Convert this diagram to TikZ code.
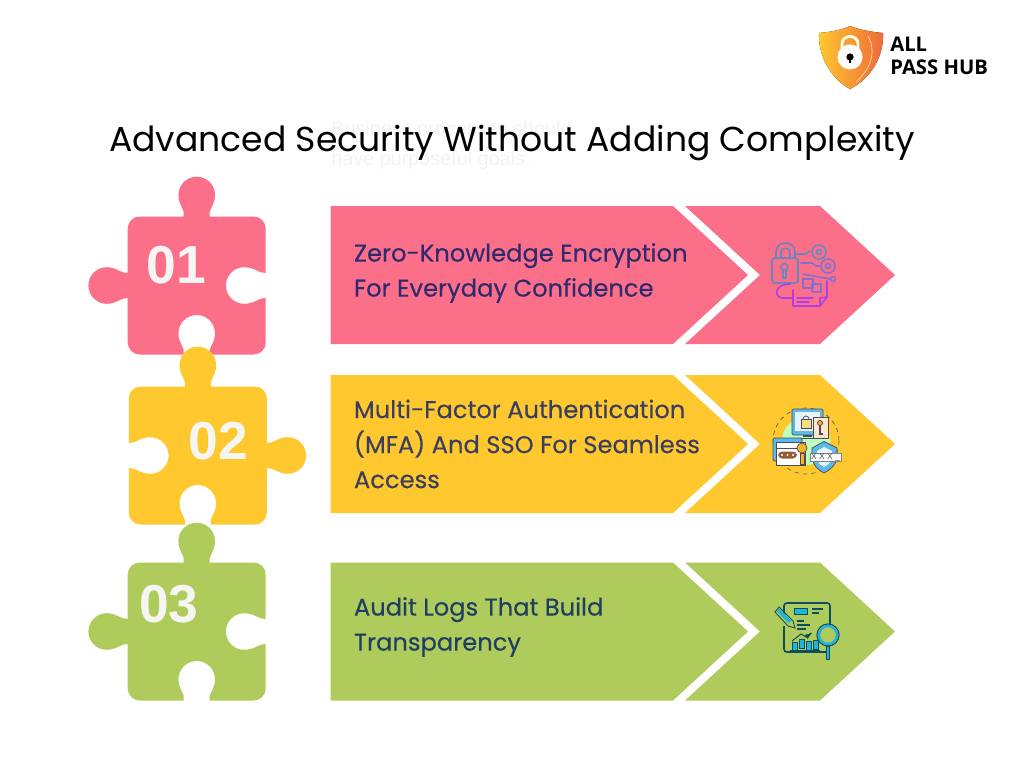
\documentclass[tikz,border=0pt]{standalone}
\usepackage{fontspec}
\setmainfont{Poppins}
\newfontfamily\rowfont[FakeBold=0.25]{Poppins}
\newfontfamily\numfont{Liberation Sans}
\newfontfamily\logofont{Open Sans}
\usetikzlibrary{shadings}
\definecolor{rowpink}{HTML}{FB6F89}
\definecolor{rowyellow}{HTML}{FFC82E}
\definecolor{rowgreen}{HTML}{AFCB5C}
\definecolor{inkpink}{HTML}{2F2A70}
\definecolor{inkyellow}{HTML}{3A3F60}
\definecolor{inkgreen}{HTML}{1F3F62}
\definecolor{numwhite}{HTML}{F5F5F3}
\definecolor{lockA}{HTML}{6488BE}
\definecolor{lockB}{HTML}{8070D4}
\definecolor{lockC}{HTML}{B03EE8}
\definecolor{deviceblue}{HTML}{5DB9E8}
\definecolor{deviceink}{HTML}{4A4A5A}
\definecolor{auditink}{HTML}{0E4C60}
\definecolor{auditcyan}{HTML}{22B5D8}
\definecolor{shieldmid}{HTML}{FBAE2C}
\definecolor{shieldred}{HTML}{EE6A3A}
\tikzstyle{rowtext} = [anchor=west,align=left,font=\rowfont\fontsize{17.2}{24.9}\selectfont]
\tikzstyle{numtext} = [text=numwhite,font=\numfont\bfseries\fontsize{38}{38}\selectfont]
\tikzstyle{logotext} = [anchor=base west,inner sep=0pt,font=\logofont\bfseries\fontsize{14.4}{14.4}\selectfont]
\tikzstyle{ghosttext} = [anchor=base west,inner sep=0pt,text=black!5,font=\numfont\fontsize{14.1}{14.1}\selectfont]
\tikzstyle{icon} = [line width=1.1pt,line cap=round,line join=round]

\newcommand{\puzzlepiece}[4]{% centre x, centre y, mirror, colour
  \fill[#4,shift={(#1,#2)},xscale=#3]
    (-69,-57) arc (180:270:12) -- (-13,-69)
    .. controls (-11,-75) and (-18.3,-80) .. (-18.3,-90.5) arc (180:360:18.3)
    .. controls (18.3,-80) and (11,-75) .. (13,-69)
    -- (57,-69) arc (270:360:12) -- (69,-12.5)
    .. controls (62,-12) and (58,-18.3) .. (47.5,-18.3) arc (270:90:18.3)
    .. controls (58,18.3) and (62,12) .. (69,12.5)
    -- (69,57) arc (0:90:12) -- (13,69)
    .. controls (11,63) and (18.3,58) .. (18.3,47.8) arc (0:-180:18.3)
    .. controls (-18.3,58) and (-11,63) .. (-13,69)
    -- (-57,69) arc (90:180:12) -- (-69,12.5)
    .. controls (-76,12) and (-80,18.3) .. (-90,18.3) arc (90:270:18.3)
    .. controls (-80,-18.3) and (-76,-12) .. (-69,-12.5) -- cycle;
}

\begin{document}
\begin{tikzpicture}[x=0.025cm,y=-0.025cm]
  \useasboundingbox (0,0) rectangle (1024,768);

  % faint text behind the title
  \node[ghosttext] (ghost) at (331,136) {Business processes should};
  \node[ghosttext] (ghosttwo) at (331,165) {have purposeful goals.};
  \node[anchor=base,inner sep=0pt,font=\fontsize{24.6}{30}\selectfont] (title) at (512,151) {Advanced Security Without Adding Complexity};

  % logo
  \fill[left color=rowyellow,middle color=shieldmid,right color=shieldred] (819,33) .. controls (830,32) and (842,30) .. (850,26)
    .. controls (860,30) and (872,32) .. (883,33) .. controls (884,55) and (872,78) .. (850,89)
    .. controls (830,78) and (818,55) .. (819,33) -- cycle;
  \draw[white!70!orange,line width=0.5pt] (868,36) .. controls (876,50) and (872,68) .. (856,82);
  \draw[white!90!yellow,line width=2pt] (842,50) -- (842,44) .. controls (842,34) and (858,34) .. (858,44) -- (858,50);
  \fill[white] (850,57) circle (12.5);
  \fill[black] (850,57) circle (3.6);
  \fill[black] (848.6,58) rectangle (851.4,63);
  \node[logotext] (logoall) at (890,52) {ALL};
  \node[logotext] (logopass) at (890,75) {PASS HUB};

  % arrow rows
  \foreach \y/\c in {275/rowpink,444/rowyellow,631.5/rowgreen} {
    \fill[\c] (330.5,\y-69) -- (673,\y-69) -- (748,\y) -- (673,\y+69) -- (330.5,\y+69) -- cycle;
    \fill[\c] (685,\y-69) -- (820,\y-69) -- (895,\y) -- (820,\y+69) -- (685,\y+69) -- (760,\y) -- cycle;
  }
  \node[rowtext,text=inkpink] (textone) at (349,273) {Zero-Knowledge Encryption\\For Everyday Confidence};
  \node[rowtext,text=inkyellow] (texttwo) at (349,444) {Multi-Factor Authentication\\(MFA) And SSO For Seamless\\Access};
  \node[rowtext,text=inkgreen] (textthree) at (349,627) {Audit Logs That Build\\Transparency};

  % puzzle pieces
  \foreach \x/\y/\m/\c in {196.7/285.5/1/rowpink,197.8/455.5/-1/rowyellow,196.7/631.5/1/rowgreen} {
    \puzzlepiece{\x}{\y}{\m}{\c}
  }
  \node[numtext] (numone) at (176.5,265) {01};
  \node[numtext] (numtwo) at (218.5,441) {02};
  \node[numtext] (numthree) at (169,604) {03};

  % lock icon
  \draw[icon,lockA] (776,258) -- (776,252) .. controls (776,240) and (795,240) .. (795,252) -- (795,258);
  \draw[icon,lockA] (781,258) -- (781,252) .. controls (781,247) and (790,247) .. (790,252) -- (790,258);
  \draw[icon,lockA,rounded corners=2pt] (772,258) rectangle (798,283);
  \draw[icon,lockA] (784.5,267) circle (3.5);
  \draw[icon,lockA] (783,270) -- (783,278) -- (786,278) -- (786,270);
  \draw[icon,lockA] (797,254) -- (806,254) -- (810,251);
  \draw[icon,lockA] (819,252) circle (7);
  \draw[icon,lockA] (819,252) circle (2.5);
  \draw[icon,lockB] (801,263) -- (812,263) -- (816,266) -- (820,266);
  \draw[icon,lockB] (828,266) circle (7);
  \draw[icon,lockB] (828,266) circle (2.5);
  \draw[icon,lockB] (803,274) -- (830,279);
  \draw[icon,lockB] (833,279) circle (2.5);
  \draw[icon,lockB] (803,279) rectangle (813,288);
  \draw[icon,lockB] (812,284) rectangle (821,292);
  \draw[icon,lockC] (793,290) -- (793,306) -- (820,306) -- (827,297) -- (827,281);
  \draw[icon,lockC] (820,306) -- (820,298) -- (827,297);
  \draw[icon,lockC] (797,298) -- (813,298);
  \draw[icon,lockC] (797,302) -- (809,302);
  \draw[icon,lockC] (790,284) .. controls (775,284) and (773,296) .. (782,298) -- (793,298);

  % access icon
  \fill[green!25!white] (806,441) circle (24);
  \draw[deviceink,dashed,line width=0.4pt] (806,441) circle (33);
  \fill[deviceblue,draw=deviceink,line width=0.5pt,rounded corners=1pt] (792,409) rectangle (823,435);
  \fill[white!85!deviceblue] (795,412) rectangle (820,431);
  \fill[deviceink] (803,435) rectangle (812,437);
  \draw[deviceink,line width=0.7pt] (800,438) -- (815,438);
  \draw[deviceink,fill=rowyellow!60!white,line width=0.5pt] (801,419) rectangle (811,428);
  \draw[deviceink,line width=0.5pt] (803,419) arc (180:360:3);
  \fill[white!80!orange,draw=deviceink,line width=0.5pt] (813,417) rectangle (828,438);
  \draw[deviceink,fill=rowyellow!80!orange,line width=0.6pt] (820,423) circle (2.5);
  \draw[deviceink,line width=0.8pt] (820,425.5) -- (820,434) -- (823,434);
  \fill[deviceblue,draw=deviceink,line width=0.5pt,rounded corners=1pt] (773,438) rectangle (802,461);
  \fill[white,draw=deviceink,line width=0.5pt] (776,442) rectangle (805,465);
  \draw[deviceink,line width=0.5pt] (776,448) -- (805,448);
  \fill[deviceink!60!orange,rounded corners=3pt] (778,451.5) rectangle (797,458.5);
  \foreach \x in {782,787.5,793} {
    \fill[white] (\x,455) circle (1.2);
  }
  \draw[deviceink,fill=rowyellow!70!orange,line width=0.5pt] (802,448) circle (5);
  \fill[rowyellow!70!orange,draw=deviceink,line width=0.5pt] (800,453) rectangle (804,464);
  \fill[deviceblue,draw=deviceink,line width=0.5pt] (812,448) -- (824,441.5) -- (837,448) -- (837,458) .. controls (836,465) and (830,470) .. (824,473)
    .. controls (818,470) and (813,465) .. (812,458) -- cycle;
  \fill[white!85!deviceblue] (817,451) -- (824,447) -- (832,451) -- (832,458) .. controls (831,462) and (828,465) .. (824,467)
    .. controls (820,465) and (817,462) .. (817,458) -- cycle;
  \fill[white,draw=deviceink!70,line width=0.4pt] (810,453.5) rectangle (841,461.5);
  \node[inner sep=0pt,text=deviceink,font=\numfont\fontsize{6}{6}\selectfont] (xmark) at (825.5,457.5) {X X X \_};

  % audit icon
  \draw[auditink,line width=1.1pt,rounded corners=2pt] (784,615) -- (784,603) -- (830,603) -- (830,625);
  \draw[auditink,line width=1.1pt,rounded corners=2pt] (784,626) -- (784,652) -- (826,652);
  \fill[auditcyan,draw=auditink,line width=0.7pt] (794,608) rectangle (807,614);
  \draw[auditink,line width=0.8pt] (812,609) -- (823,609);
  \draw[auditink,line width=0.8pt] (812,613) -- (819,613);
  \draw[auditink,line width=0.8pt] (797,621) -- (804,621);
  \draw[auditink,line width=0.8pt] (797,625) -- (810,625);
  \draw[auditink,line width=0.8pt] (797,629) -- (806,629);
  \draw[auditcyan,line width=2.6pt] (778,610) -- (790,622);
  \draw[auditink,line width=0.6pt] (775,612) -- (779,607) -- (793,621) -- (795,628) -- (788,626) -- cycle;
  \draw[auditink,line width=0.7pt] (792,641) -- (801,634) -- (806,637) -- (811,633);
  \draw[auditink,line width=0.7pt,->,>=latex] (806,637) -- (812,633);
  \foreach \x/\y in {792/642,799/639,806/641,813/640} {
    \fill[auditcyan,draw=auditink,line width=0.6pt] (\x,\y) rectangle ++(5,9);
  }
  \draw[auditink,line width=0.8pt] (790,651) -- (820,651);
  \draw[auditink,line width=3pt] (828,646) -- (828,660);
  \draw[auditcyan,line width=1.8pt] (828,647) -- (828,659);
  \draw[auditink,fill=rowgreen,line width=0.8pt] (828,635) circle (11);
  \draw[auditcyan,line width=1.8pt] (828,635) circle (9);
\end{tikzpicture}
\end{document}
